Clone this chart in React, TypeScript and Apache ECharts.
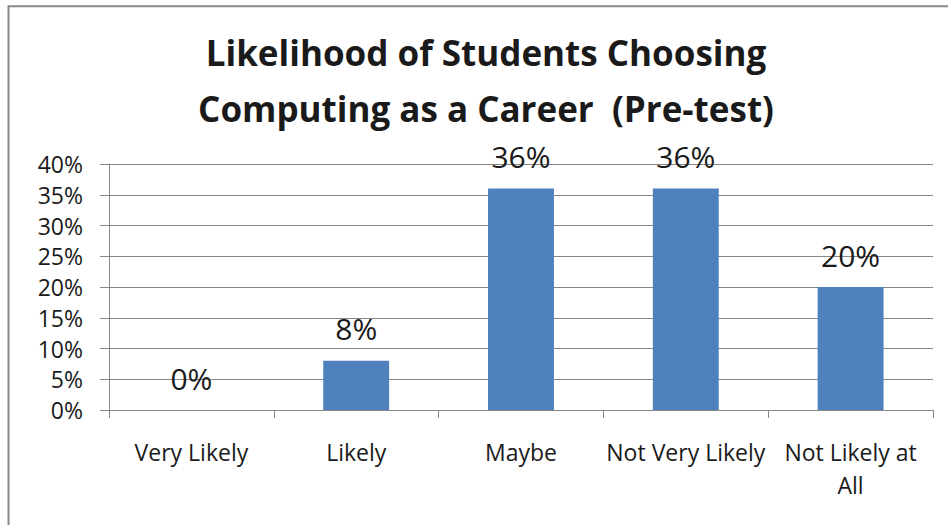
import React, { useEffect, useRef } from "react";
import * as echarts from "echarts";

const categories = ["Very Likely", "Likely", "Maybe", "Not Very Likely", "Not Likely at All"];
const values = [0, 0.08, 0.36, 0.36, 0.2];
const titleLines = ["Likelihood of Students Choosing", "Computing as a Career  (Pre-test)"];
const yTicks = [0, 0.05, 0.1, 0.15, 0.2, 0.25, 0.3, 0.35, 0.4];

const FONT = "'Open Sans', 'Liberation Sans', sans-serif";
const TEXT = "#1a1a1a";
const GRID = "#868686";

export default function App() {
  const ref = useRef<HTMLDivElement>(null);
  useEffect(() => {
    if (!ref.current) return;
    const chart = echarts.init(ref.current, undefined, { renderer: "svg" });
    chart.setOption({
      animation: false,
      backgroundColor: "#ffffff",
      graphic: [
        {
          type: "rect",
          shape: { x: 8.5, y: 6.3, width: 1200, height: 1200 },
          style: { fill: "none", stroke: "#888888", lineWidth: 2 },
          silent: true,
        },
        {
          type: "text",
          x: 486,
          y: 24,
          silent: true,
          style: {
            text: titleLines.join("\n"),
            align: "center",
            verticalAlign: "top",
            fontFamily: FONT,
            fontSize: 35,
            fontWeight: "bold",
            lineHeight: 56,
            fill: TEXT,
          },
        },
      ],
      grid: { left: 109, right: 15, top: 164, bottom: 115, containLabel: false },
      xAxis: {
        type: "category",
        data: categories,
        axisLine: { lineStyle: { color: GRID, width: 1 } },
        axisTick: { show: true, length: 8, lineStyle: { color: GRID } },
        axisLabel: {
          fontFamily: FONT,
          fontSize: 23,
          color: TEXT,
          margin: 25,
          lineHeight: 33,
          interval: 0,
          formatter: (v: string) => (v === "Not Likely at All" ? "Not Likely at\nAll" : v),
        },
      },
      yAxis: {
        type: "value",
        min: yTicks[0],
        max: yTicks[yTicks.length - 1],
        interval: yTicks[1] - yTicks[0],
        axisLine: { show: true, lineStyle: { color: GRID, width: 1 } },
        axisTick: { show: true, length: 9, lineStyle: { color: GRID } },
        splitLine: { show: true, lineStyle: { color: GRID, width: 1 } },
        axisLabel: {
          fontFamily: FONT,
          fontSize: 23,
          color: TEXT,
          margin: 26,
          formatter: (v: number) => `${Math.round(v * 100)}%`,
        },
      },
      series: [
        {
          type: "bar",
          data: values,
          barWidth: "40%",
          itemStyle: { color: "#4F81BD" },
          label: {
            show: true,
            position: "top",
            distance: 17,
            fontFamily: FONT,
            fontSize: 30,
            color: TEXT,
            formatter: (p: any) => `${Math.round(p.value * 100)}%`,
          },
        },
      ],
    });
    return () => chart.dispose();
  }, []);
  return (
    <div
      ref={ref}
      style={{ position: "fixed", left: 0, top: 0, width: 948, height: 525 }}
    />
  );
}
